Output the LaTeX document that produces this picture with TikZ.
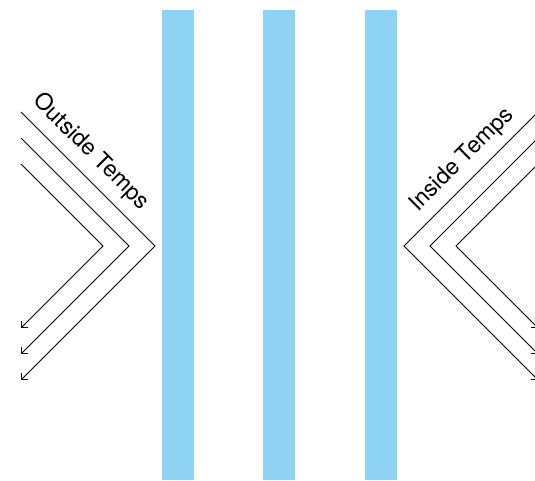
\documentclass[tikz,border=0pt]{standalone}
\usepackage{fontspec}
\setmainfont{TeX Gyre Heros}
\usetikzlibrary{arrows.meta}
\definecolor{barblue}{HTML}{8FD3F4}
\begin{document}
\begin{tikzpicture}[x=1pt,y=-1pt,
  bar/.style={fill=barblue,draw=none},
  flow/.style={draw=black,line width=0.8pt,-{Straight Barb[length=5pt,width=10pt,line width=0.8pt]}},
  lbl/.style={inner sep=0pt,font=\fontsize{23}{27}\selectfont}]
\useasboundingbox (0,0) rectangle (535,480);
% walls
\fill[bar] (162,10) rectangle (194,480);
\fill[bar] (263,10) rectangle (295,480);
\fill[bar] (365,10) rectangle (397,480);
% left chevrons
\coordinate (LoS) at (21,112);  \coordinate (LoV) at (155,246); \coordinate (LoE) at (21,380);
\coordinate (LmS) at (21,138);  \coordinate (LmV) at (129,246); \coordinate (LmE) at (21,354);
\coordinate (LiS) at (21,164);  \coordinate (LiV) at (103,246); \coordinate (LiE) at (21,328);
\draw[flow] (LoS) -- (LoV) -- (LoE);
\draw[flow] (LmS) -- (LmV) -- (LmE);
\draw[flow] (LiS) -- (LiV) -- (LiE);
% right chevrons
\coordinate (RoS) at (538,112);  \coordinate (RoV) at (404,246); \coordinate (RoE) at (538,380);
\coordinate (RmS) at (538,138);  \coordinate (RmV) at (430,246); \coordinate (RmE) at (538,354);
\coordinate (RiS) at (538,164);  \coordinate (RiV) at (456,246); \coordinate (RiE) at (538,328);
\draw[flow] (RoS) -- (RoV) -- (RoE);
\draw[flow] (RmS) -- (RmV) -- (RmE);
\draw[flow] (RiS) -- (RiV) -- (RiE);
% labels
\node[lbl,rotate=-45] (outside) at (91,152) {Outside Temps};
\node[lbl,rotate=45] (inside) at (462,160) {Inside Temps};
\end{tikzpicture}
\end{document}
